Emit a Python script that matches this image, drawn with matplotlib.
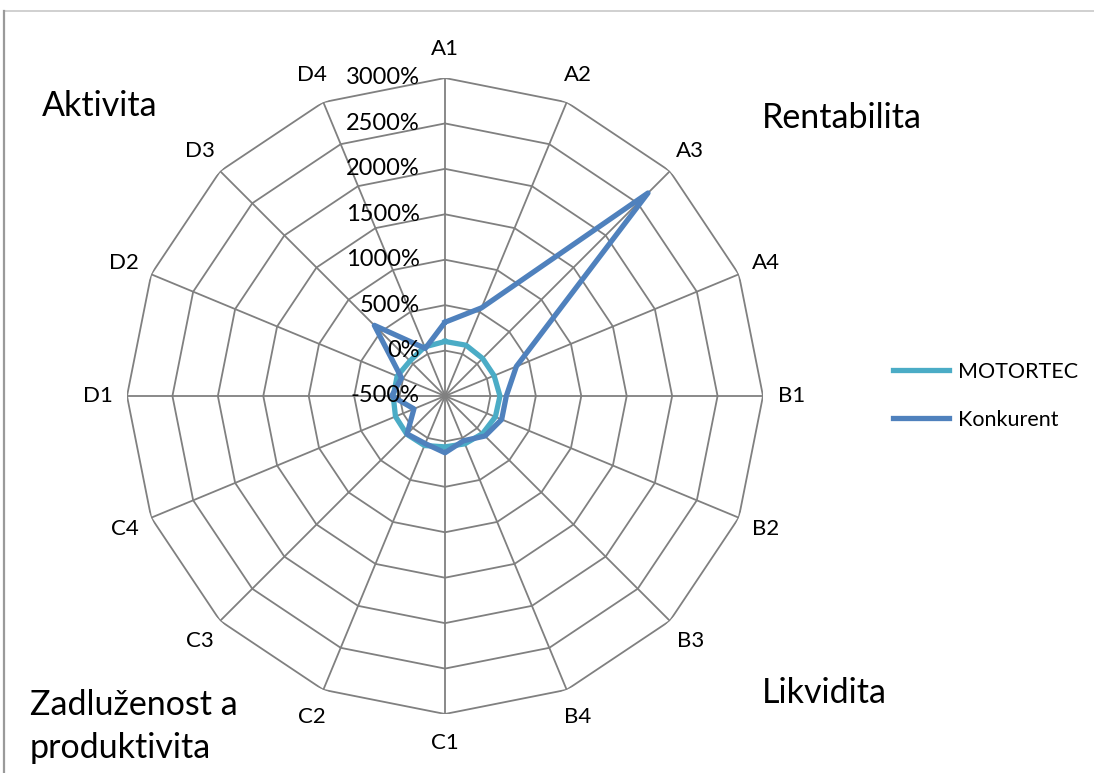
import numpy as np
import matplotlib
matplotlib.use('Agg')
import matplotlib.pyplot as plt
from matplotlib.lines import Line2D

plt.rcParams['font.family'] = ['Lato', 'DejaVu Sans']

# spoke names, clockwise from the top
categories = ['A1', 'A2', 'A3', 'A4', 'B1', 'B2', 'B3', 'B4',
              'C1', 'C2', 'C3', 'C4', 'D1', 'D2', 'D3', 'D4']
# values in %
motortec = [100, 105, 85, 85, 105, 100, 85, 70,
            60, 90, 95, 90, 70, 70, 45, 85]
konkurent = [312, 550, 2660, 350, 175, 175, 123, 33,
             125, 67, 90, -130, 87, 17, 600, 67]
r_ticks = [-500, 0, 500, 1000, 1500, 2000, 2500, 3000]
groups = ['Aktivita', 'Rentabilita', 'Likvidita', 'Zadluženost a', 'produktivita']

W, H = 1094, 773
fig = plt.figure(figsize=(W / 100, H / 100), dpi=100)

# chart area border (only top and left edge visible)
fig.add_artist(Line2D([4 / W, 1], [1 - 11 / H, 1 - 11 / H], color='#c8c8c8', lw=1.2))
fig.add_artist(Line2D([4 / W, 4 / W], [0, 1 - 11 / H], color='#9a9a9a', lw=1.6))

cx, cy, R = 445, 396, 318
ax = fig.add_axes([(cx - R) / W, (H - cy - R) / H, 2 * R / W, 2 * R / H], projection='polar')
ax.set_theta_zero_location('N')
ax.set_theta_direction(-1)
ax.set_ylim(r_ticks[0], r_ticks[-1])
ax.grid(False)
ax.set_xticks([])
ax.set_yticks([])
ax.spines['polar'].set_visible(False)
ax.patch.set_visible(False)

n = len(categories)
theta = np.linspace(0, 2 * np.pi, n, endpoint=False)
theta_c = np.append(theta, theta[0])

grid_col = '#808080'
# polygon rings
for v in r_ticks[1:]:
    ax.plot(theta_c, [v] * (n + 1), color=grid_col, lw=1.3, zorder=1)
# spokes
for t in theta:
    ax.plot([t, t], [r_ticks[0], r_ticks[-1]], color=grid_col, lw=1.3, zorder=1)

ax.plot(theta_c, motortec + motortec[:1], color='#4BACC6', lw=3.8,
        label='MOTORTEC', zorder=3, solid_joinstyle='round')
ax.plot(theta_c, konkurent + konkurent[:1], color='#4F81BD', lw=3.8,
        label='Konkurent', zorder=4, solid_joinstyle='round')

# radial axis labels, left of the A1 spoke
for v in r_ticks:
    ax.annotate('%d%%' % v, xy=(0, v), xytext=(-25, 0), textcoords='offset pixels',
                ha='right', va='center', fontsize=17, color='black', zorder=5)

# spoke labels
r_lab = r_ticks[0] + 347 * (r_ticks[-1] - r_ticks[0]) / R
for t, c in zip(theta, categories):
    ax.text(t, r_lab, c, ha='center', va='center', fontsize=16)

fig.legend(loc='center left', bbox_to_anchor=(893 / W, 1 - 396 / H), frameon=False,
           fontsize=15.5, handlelength=2.6, handletextpad=0.4, labelspacing=1.3,
           borderpad=0, borderaxespad=0)

# group captions
fig.text(41.7 / W, 1 - 116 / H, groups[0], fontsize=24.5, va='baseline')
fig.text(761.7 / W, 1 - 128 / H, groups[1], fontsize=24.5, va='baseline')
fig.text(761.7 / W, 1 - 703 / H, groups[2], fontsize=24.5, va='baseline')
fig.text(30 / W, 1 - 715 / H, groups[3], fontsize=24.5, va='baseline')
fig.text(30 / W, 1 - 758 / H, groups[4], fontsize=24.5, va='baseline')

fig.savefig('out.png', dpi=100)
